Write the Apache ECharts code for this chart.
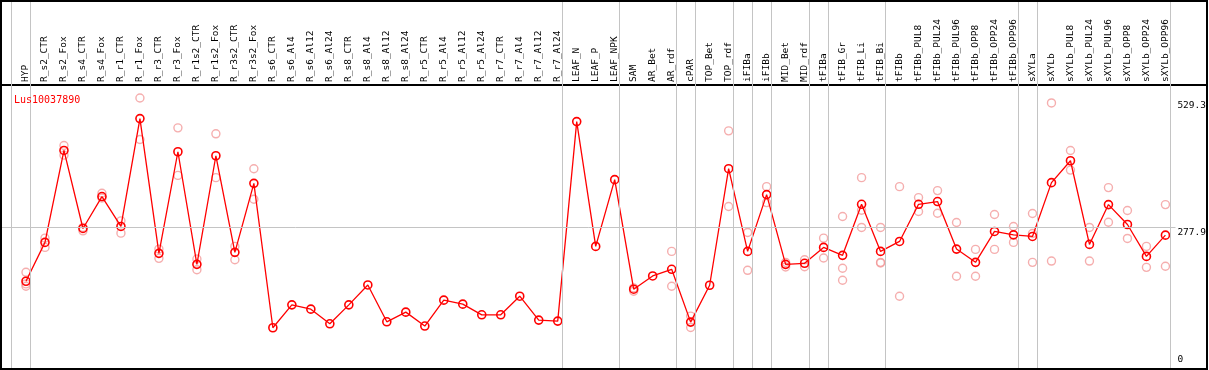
<!DOCTYPE html>
<html>
<head>
<meta charset="utf-8">
<script src="https://cdn.jsdelivr.net/npm/echarts@6/dist/echarts.min.js"></script>
<style>
  html, body { margin: 0; padding: 0; background: #fff; }
  #chart { width: 1209px; height: 370px; }
</style>
</head>
<body>
<div id="chart"></div>
<script>
// ---------------- data ----------------
const geneName = 'Lus10037890';
const categories = [
  'HYP', 'R_s2_CTR', 'R_s2_Fox', 'R_s4_CTR', 'R_s4_Fox', 'R_r1_CTR', 'R_r1_Fox', 'R_r3_CTR', 'R_r3_Fox',
  'R_r1s2_CTR', 'R_r1s2_Fox', 'R_r3s2_CTR', 'R_r3s2_Fox',
  'R_s6_CTR', 'R_s6_Al4', 'R_s6_Al12', 'R_s6_Al24', 'R_s8_CTR', 'R_s8_Al4', 'R_s8_Al12', 'R_s8_Al24',
  'R_r5_CTR', 'R_r5_Al4', 'R_r5_Al12', 'R_r5_Al24', 'R_r7_CTR', 'R_r7_Al4', 'R_r7_Al12', 'R_r7_Al24',
  'LEAF_N', 'LEAF_P', 'LEAF_NPK', 'SAM', 'AR_Bet', 'AR_rdf', 'cPAR', 'TOP_Bet', 'TOP_rdf',
  'iFIBa', 'iFIBb', 'MID_Bet', 'MID_rdf', 'tFIBa', 'tFIB_Gr', 'tFIB_Li', 'tFIB_Bi', 'tFIBb',
  'tFIBb_PUL8', 'tFIBb_PUL24', 'tFIBb_PUL96', 'tFIBb_OPP8', 'tFIBb_OPP24', 'tFIBb_OPP96',
  'sXYLa', 'sXYLb', 'sXYLb_PUL8', 'sXYLb_PUL24', 'sXYLb_PUL96', 'sXYLb_OPP8', 'sXYLb_OPP24', 'sXYLb_OPP96'
];
const meanValues = [
  172.7, 248.3, 427.2, 275.4, 337.5, 279.3, 489.2, 227.0, 424.7,
  205.6, 416.9, 228.9, 363.2,
  82.2, 126.8, 118.4, 89.9, 126.8, 165.5, 93.8, 112.6,
  85.5, 135.9, 128.1, 107.4, 107.4, 143.6, 97.1, 95.2,
  483.4, 240.5, 370.4, 157.2, 183.0, 196.0, 93.2, 164.9, 391.7,
  230.8, 341.3, 205.6, 207.6, 238.6, 223.1, 322.5, 230.8, 250.2,
  322.5, 327.8, 235.3, 209.5, 269.6, 263.0,
  259.9, 364.6, 407.2, 244.4, 321.9, 283.1, 221.1, 262.4
];
const replicate1 = [
  190.1, 256.6, 436.9, 277.4, 343.9, 290.2, 529.3, 235.3, 471.2,
  215.9, 459.6, 240.5, 391.7,
  null, null, null, null, null, null, null, null,
  null, null, null, null, null, null, null, null,
  null, null, null, 159.7, null, 230.8, 104.9, null, 465.4,
  267.7, 356.8, 209.5, 214.6, 256.6, 298.7, 374.3, 277.4, 356.8,
  335.5, 349.1, 287.1, 234.7, 302.6, 279.3,
  304.5, 519.7, 427.2, 277.4, 354.9, 310.3, 240.5, 321.9
];
const replicate2 = [
  167.5, 238.6, 418.1, 270.8, 334.7, 266.3, 448.5, 217.3, 378.7,
  195.2, 374.3, 214.6, 332.2,
  null, null, null, null, null, null, null, null,
  null, null, null, null, null, null, null, null,
  null, null, null, 153.3, null, 163.0, 82.8, null, 318.1,
  194.0, 325.8, 200.4, 201.0, 217.9, 197.9, 310.9, 209.5, 143.6,
  308.4, 305.1, 182.4, 182.4, 234.7, 248.3,
  265.7, 212.0, 389.0, 212.0, 287.6, 256.0, 199.8, 201.8
];
const replicate3 = [
  163.0, null, null, null, null, null, null, null, null,
  null, null, null, null,
  null, null, null, null, null, null, null, null,
  null, null, null, null, null, null, null, null,
  null, null, null, null, null, null, null, null, null,
  null, null, null, null, null, 174.6, 277.4, 208.2, null,
  null, null, null, null, null, null,
  209.5, null, null, null, null, null, null, null
];
// groups end after these category indices (-1 = before the first)
const groupEnds = [-1, 0, 28, 31, 34, 35, 37, 38, 39, 41, 42, 45, 52, 53, 60];
const yTickLabels = [277.9, 529.3];
const yZeroLabel = [0];
const refLineValue = 277.9;

// ---------------- chart ----------------
const FONT = 'DejaVu Sans Mono';
const XMIN = -24 / 19;
const XMAX = 1181 / 19;
const YMAX = 720;

const toPairs = arr => arr.map((v, i) => (v == null ? null : [i, v])).filter(p => p);
const meanPairs = toPairs(meanValues);

const repStyle = {
  type: 'scatter',
  symbol: 'circle',
  symbolSize: 8,
  silent: true,
  itemStyle: { color: 'rgba(0,0,0,0)', borderColor: '#f29a9a', borderWidth: 1.4 },
  z: 2
};

const chart = echarts.init(document.getElementById('chart'), null, { renderer: 'canvas' });
chart.setOption({
  animation: false,
  backgroundColor: '#fff',
  title: {
    text: geneName,
    left: 9, top: 90,
    textStyle: { color: '#ff0000', fontSize: 10, fontWeight: 'normal', fontFamily: FONT }
  },
  grid: { left: 2, top: 0, width: 1205, height: 371.4, containLabel: false },
  xAxis: {
    type: 'value',
    position: 'top',
    offset: -85,
    min: XMIN, max: XMAX,
    axisLine: { show: true, onZero: false, lineStyle: { color: '#000', width: 2 } },
    axisTick: { show: false },
    splitLine: { show: false },
    axisLabel: {
      customValues: categories.map((_, i) => i),
      rotate: -90,
      margin: 3,
      color: '#000',
      fontFamily: FONT,
      fontSize: 9.5,
      formatter: v => categories[Math.round(v)] || ''
    }
  },
  yAxis: [
    {
      type: 'value', position: 'right', offset: -30, min: 0, max: YMAX,
      axisLine: { show: false }, axisTick: { show: false }, splitLine: { show: false },
      axisLabel: {
        customValues: yTickLabels,
        margin: 1, verticalAlign: 'top', color: '#000', fontFamily: FONT, fontSize: 9.5,
        formatter: v => (v > 400 ? '{hi|' + v + '}' : '{lo|' + v + '}'),
        rich: {
          hi: { color: '#000', fontFamily: FONT, fontSize: 9.5, padding: [3, 0, 0, 0] },
          lo: { color: '#000', fontFamily: FONT, fontSize: 9.5, padding: [0, 0, 0, 0] }
        }
      }
    },
    {
      type: 'value', position: 'right', offset: -30, min: 0, max: YMAX,
      axisLine: { show: false }, axisTick: { show: false }, splitLine: { show: false },
      axisLabel: {
        customValues: yZeroLabel,
        margin: 1, verticalAlign: 'bottom', color: '#000', fontFamily: FONT, fontSize: 9.5,
        padding: [0, 0, 5, 0],
        formatter: v => String(v)
      }
    }
  ],
  graphic: [
    {
      type: 'rect', silent: true, z: 100,
      shape: { x: 1, y: 1, width: 1206, height: 368 },
      style: { fill: 'none', stroke: '#000', lineWidth: 2 }
    }
  ],
  series: [
    Object.assign({ name: 'rep1', data: toPairs(replicate1) }, repStyle),
    Object.assign({ name: 'rep2', data: toPairs(replicate2) }, repStyle),
    Object.assign({ name: 'rep3', data: toPairs(replicate3) }, repStyle),
    {
      name: geneName,
      type: 'line',
      data: meanPairs,
      symbol: 'circle',
      symbolSize: 8,
      showAllSymbol: true,
      lineStyle: { color: '#ff0000', width: 1.3 },
      itemStyle: { color: 'rgba(255,0,0,0)', borderColor: '#ff0000', borderWidth: 1.6 },
      z: 3,
      markLine: {
        silent: true,
        symbol: ['none', 'none'],
        label: { show: false },
        animation: false,
        data: groupEnds.map(g => ({ xAxis: g + 0.25, lineStyle: { color: '#c4c4c4', width: 1, type: 'solid' } }))
          .concat([[
            { coord: [XMIN, refLineValue], lineStyle: { color: '#c4c4c4', width: 1, type: 'solid' } },
            { coord: [60.53, refLineValue] }
          ]])
      }
    }
  ]
});
</script>
</body>
</html>
